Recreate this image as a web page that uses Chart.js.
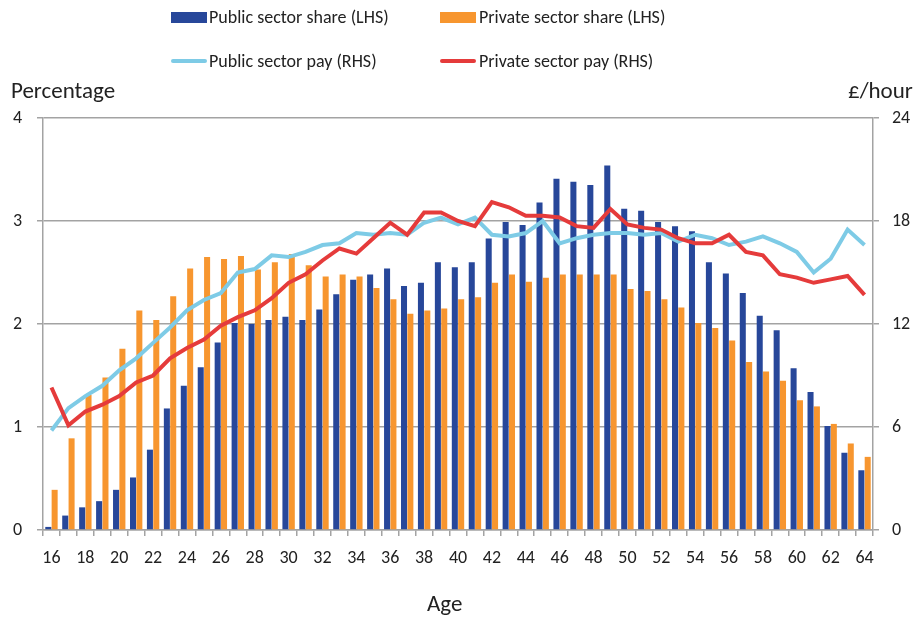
<!DOCTYPE html>
<html>
<head>
<meta charset="utf-8">
<script src="https://cdn.jsdelivr.net/npm/chart.js@4"></script>
<style>
  body { margin: 0; background: #fff; font-family: Carlito, Lato, sans-serif; color: #222; }
  #wrap { position: relative; width: 918px; height: 619px; }
  canvas { position: absolute; left: 0; top: 0; }
  .lbl { position: absolute; font-size: 18px; white-space: nowrap; }
  .title { position: absolute; font-size: 23px; white-space: nowrap; }
  .box { position: absolute; width: 36px; height: 11px; }
  .ln { position: absolute; width: 36px; height: 4px; border-radius: 2px; }
</style>
</head>
<body>
<div id="wrap">
  <canvas id="payChart" width="918" height="619"></canvas>

  <div class="box" style="left:171px; top:12px; background:#27479a"></div>
  <div class="lbl" style="left:209px; top:6px">Public sector share (LHS)</div>
  <div class="box" style="left:440px; top:12px; background:#f7962f"></div>
  <div class="lbl" style="left:479px; top:6px">Private sector share (LHS)</div>
  <div class="ln" style="left:171px; top:59px; background:#7ecbe6"></div>
  <div class="lbl" style="left:209px; top:50px">Public sector pay (RHS)</div>
  <div class="ln" style="left:440px; top:59px; background:#e53b3b"></div>
  <div class="lbl" style="left:479px; top:50px">Private sector pay (RHS)</div>

  <div class="title" style="left:11px; top:76px">Percentage</div>
  <div class="title" style="left:848px; top:76px">£/hour</div>
  <div class="title" style="left:427px; top:589px">Age</div>
</div>

<script>
const ages = [16,17,18,19,20,21,22,23,24,25,26,27,28,29,30,31,32,33,34,35,36,37,38,39,40,
              41,42,43,44,45,46,47,48,49,50,51,52,53,54,55,56,57,58,59,60,61,62,63,64];

const publicShare = [0.03,0.14,0.22,0.28,0.39,0.51,0.78,1.18,1.40,1.58,1.82,2.01,2.00,2.04,2.07,2.04,2.14,2.29,2.43,2.48,
                     2.54,2.37,2.40,2.60,2.55,2.60,2.83,2.99,2.96,3.18,3.41,3.38,3.35,3.54,3.12,3.10,2.99,2.95,2.90,2.60,
                     2.49,2.30,2.08,1.94,1.57,1.34,1.01,0.75,0.58];

const privateShare = [0.39,0.89,1.31,1.48,1.76,2.13,2.04,2.27,2.54,2.65,2.63,2.66,2.53,2.60,2.68,2.57,2.46,2.48,2.46,2.35,
                      2.24,2.10,2.13,2.15,2.24,2.26,2.40,2.48,2.41,2.45,2.48,2.48,2.48,2.48,2.34,2.32,2.24,2.16,2.01,1.96,
                      1.84,1.63,1.54,1.45,1.26,1.20,1.03,0.84,0.71];

const publicPay = [5.8,7.1,7.8,8.4,9.3,10.0,10.9,11.8,12.8,13.4,13.8,15.0,15.2,16.0,15.9,16.2,16.6,16.7,17.3,17.2,
                   17.3,17.2,17.9,18.2,17.8,18.2,17.2,17.1,17.3,18.0,16.7,17.0,17.2,17.3,17.3,17.2,17.3,16.8,17.2,17.0,
                   16.6,16.8,17.1,16.7,16.2,15.0,15.8,17.5,16.6];

const privatePay = [8.3,6.1,6.9,7.3,7.8,8.6,9.0,10.0,10.6,11.1,11.9,12.4,12.8,13.5,14.4,14.9,15.7,16.4,16.1,17.0,
                    17.9,17.2,18.5,18.5,18.0,17.7,19.1,18.8,18.3,18.3,18.2,17.7,17.6,18.7,17.8,17.6,17.5,17.0,16.7,16.7,
                    17.2,16.2,16.0,14.9,14.7,14.4,14.6,14.8,13.7];

const leftTicks = [0, 1, 2, 3, 4];
const rightTicks = [0, 6, 12, 18, 24];

const tickFont = { family: 'Carlito, Lato, sans-serif', size: 18 };
const gridGrey = '#a3a3a3';

const ctx = document.getElementById('payChart').getContext('2d');

const myChart = new Chart(ctx, {
    type: 'bar',
    data: {
        labels: ages,
        datasets: [
            {
                type: 'line',
                label: 'Private sector pay (RHS)',
                data: privatePay,
                yAxisID: 'y1',
                borderColor: '#e53b3b',
                borderWidth: 4,
                pointRadius: 0,
                tension: 0,
                order: 0
            },
            {
                type: 'line',
                label: 'Public sector pay (RHS)',
                data: publicPay,
                yAxisID: 'y1',
                borderColor: '#7ecbe6',
                borderWidth: 4,
                pointRadius: 0,
                tension: 0,
                order: 1
            },
            {
                label: 'Public sector share (LHS)',
                data: publicShare,
                yAxisID: 'y',
                backgroundColor: '#27479a',
                categoryPercentage: 0.75,
                barPercentage: 0.95,
                order: 2
            },
            {
                label: 'Private sector share (LHS)',
                data: privateShare,
                yAxisID: 'y',
                backgroundColor: '#f7962f',
                categoryPercentage: 0.75,
                barPercentage: 0.95,
                order: 2
            }
        ]
    },
    options: {
        responsive: false,
        animation: false,
        layout: { padding: { top: 118, left: 0, right: 0, bottom: 0 } },
        plugins: {
            legend: { display: false },
            tooltip: { enabled: false }
        },
        scales: {
            x: {
                grid: { display: true, drawOnChartArea: false, offset: true, color: gridGrey, lineWidth: 1.5, tickLength: 6 },
                border: { color: gridGrey, width: 1.5 },
                ticks: {
                    color: '#222', font: tickFont, autoSkip: false, maxRotation: 0, padding: 12,
                    callback: (val, i) => (i % 2 === 0 ? ages[i] : '')
                },
                afterFit: (scale) => { scale.height = 89; }
            },
            y: {
                position: 'left',
                min: 0,
                max: 4,
                afterBuildTicks: (scale) => { scale.ticks = leftTicks.map(v => ({ value: v })); },
                grid: { color: gridGrey, lineWidth: 1.5, tickLength: 6 },
                border: { color: gridGrey, width: 1.5 },
                ticks: { color: '#222', font: tickFont, padding: 15 },
                afterFit: (scale) => { scale.width = 43; }
            },
            y1: {
                position: 'right',
                min: 0,
                max: 24,
                afterBuildTicks: (scale) => { scale.ticks = rightTicks.map(v => ({ value: v })); },
                grid: { drawOnChartArea: false, color: gridGrey, lineWidth: 1.5, tickLength: 6 },
                border: { color: gridGrey, width: 1.5 },
                ticks: { color: '#222', font: tickFont, padding: 13 },
                afterFit: (scale) => { scale.width = 45; }
            }
        }
    }
});
</script>
</body>
</html>
